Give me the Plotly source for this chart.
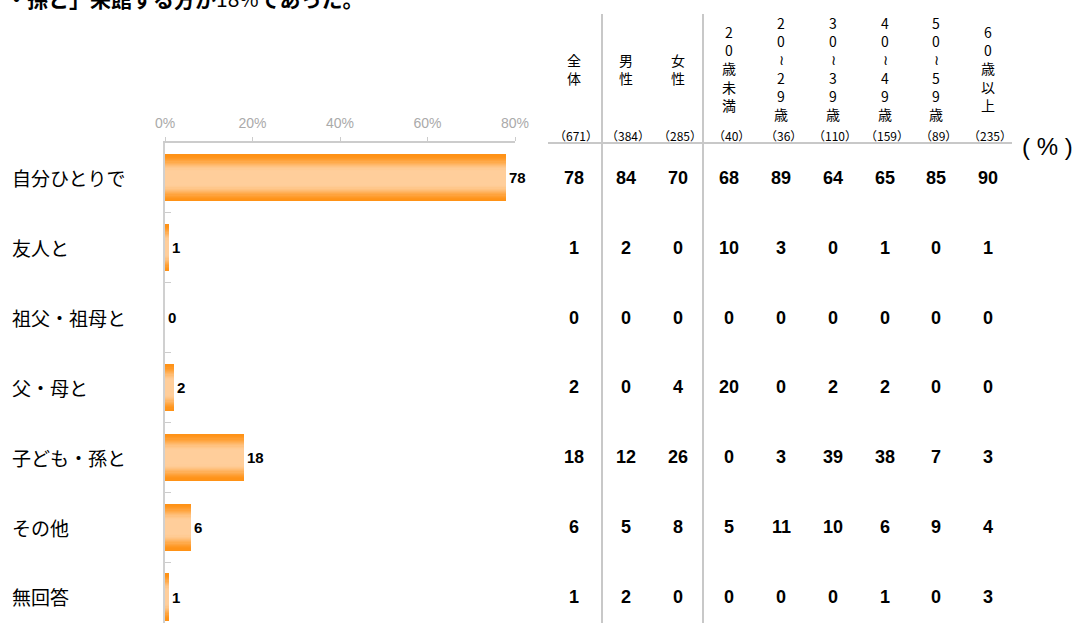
import plotly.graph_objects as go

# ---------------- data ----------------
categories = ["自分ひとりで", "友人と", "祖父・祖母と", "父・母と", "子ども・孫と", "その他", "無回答"]
bar_values = [78, 1, 0, 2, 18, 6, 1]

column_labels = ["全体", "男性", "女性", "20歳未満", "20～29歳", "30～39歳", "40～49歳", "50～59歳", "60歳以上"]
sample_sizes = [671, 384, 285, 40, 36, 110, 159, 89, 235]

col_total = [78, 1, 0, 2, 18, 6, 1]
col_male = [84, 2, 0, 0, 12, 5, 2]
col_female = [70, 0, 0, 4, 26, 8, 0]
col_u20 = [68, 10, 0, 20, 0, 5, 0]
col_20s = [89, 3, 0, 0, 3, 11, 0]
col_30s = [64, 0, 0, 2, 39, 10, 0]
col_40s = [65, 1, 0, 2, 38, 6, 1]
col_50s = [85, 0, 0, 0, 7, 9, 0]
col_60p = [90, 1, 0, 0, 3, 4, 3]
table_columns = [col_total, col_male, col_female, col_u20, col_20s, col_30s, col_40s, col_50s, col_60p]

x_ticks = [0, 20, 40, 60, 80]
title_text = "<b>・孫と」来館する方が</b>18%<b>であった。</b>"

# ---------------- layout helpers ----------------
W, H = 1083, 623
L, R, T, B = 165, 515, 143, 623


def px(xp):
    return (xp - L) / (R - L)


def py(yp):
    return 1 - (yp - T) / (B - T)


JP = "Noto Sans CJK JP"
NUM = "Liberation Sans, Arial"

fig = go.Figure()

# gradient bars: overlay of same data with shrinking widths
edge = (255, 146, 22)
center = (255, 206, 155)
N = 20
full_w = 0.675
ypos = list(range(len(categories)))
for k in range(N):
    t = k / N
    s = min(1.0, t / 0.7)
    s = s * s * (3 - 2 * s)
    c = tuple(round(edge[i] + (center[i] - edge[i]) * s) for i in range(3))
    fig.add_trace(go.Bar(
        x=bar_values, y=ypos, orientation="h",
        width=full_w * (1 - t),
        marker=dict(color="rgb(%d,%d,%d)" % c, line=dict(width=0)),
        text=[str(v) for v in bar_values] if k == 0 else None,
        textposition="outside" if k == 0 else "none",
        textfont=dict(family=NUM, size=15, color="black", weight="bold"),
        cliponaxis=False, hoverinfo="skip", showlegend=False,
    ))

fig.update_layout(
    width=W, height=H,
    margin=dict(l=L, r=W - R, t=T, b=H - B, pad=0),
    paper_bgcolor="white", plot_bgcolor="white",
    barmode="overlay", bargap=0,
    xaxis=dict(range=[0, 80], side="top", tickvals=x_ticks,
               ticktext=["%d%%" % v for v in x_ticks],
               showgrid=False, zeroline=False, showline=True, linecolor="#cccccc", linewidth=1.5,
               ticks="outside", ticklen=4, tickcolor="#cccccc",
               tickfont=dict(family=NUM, size=14, color="#aaaaaa"),
               ticklabelstandoff=4, fixedrange=True),
    yaxis=dict(range=[6.373, -0.5], tickvals=[0.5, 1.5, 2.5, 3.5, 4.5, 5.5],
               showticklabels=False, showgrid=False, zeroline=False,
               showline=True, linecolor="#d0d0d0", linewidth=2,
               ticks="inside", ticklen=6, tickcolor="#cccccc", tickwidth=1, fixedrange=True),
)

ann = []
# title (cut at the top, as in the reference)
ann.append(dict(text=title_text, xref="paper", yref="paper", x=px(4), y=py(-2),
                xanchor="left", yanchor="middle", showarrow=False,
                font=dict(family=JP, size=21, color="black")))
# row labels
for i, c in enumerate(categories):
    ann.append(dict(text=c, xref="paper", yref="y", x=px(10), y=i, xanchor="left",
                    yanchor="middle", showarrow=False,
                    font=dict(family=JP, size=19, color="black")))

col_x0, col_dx = 574, 51.75
for j, (lab, n, vals) in enumerate(zip(column_labels, sample_sizes, table_columns)):
    cx = col_x0 + col_dx * j
    stacked = "<br>".join(ch for ch in lab.replace("～", "≀"))
    ann.append(dict(text=stacked, xref="paper", yref="paper", x=px(cx), y=py(69),
                    xanchor="center", yanchor="middle", showarrow=False,
                    font=dict(family=JP, size=14, color="black")))
    ann.append(dict(text="（%d）" % n, xref="paper", yref="paper", x=px(cx + 2), y=py(135),
                    xanchor="center", yanchor="middle", showarrow=False,
                    font=dict(family=JP, size=12, color="black")))
    for i, v in enumerate(vals):
        ann.append(dict(text=str(v), xref="paper", yref="y", x=px(cx), y=i,
                        xanchor="center", yanchor="middle", showarrow=False,
                        font=dict(family=NUM, size=18, color="black", weight="bold")))

ann.append(dict(text="( % )", xref="paper", yref="paper", x=px(1047), y=py(146),
                xanchor="center", yanchor="middle", showarrow=False,
                font=dict(family=NUM, size=24, color="black")))
fig.update_layout(annotations=ann)

shapes = []
for xp_ in (602, 703):
    shapes.append(dict(type="line", xref="paper", yref="paper", x0=px(xp_), x1=px(xp_),
                       y0=py(14), y1=py(H), line=dict(color="#c8c8c8", width=2)))
shapes.append(dict(type="line", xref="paper", yref="paper", x0=px(548), x1=px(1012),
                   y0=py(143), y1=py(143), line=dict(color="#c8c8c8", width=2)))
fig.update_layout(shapes=shapes)

fig.write_html("out.html", config={"displayModeBar": False},
               post_script="document.body.style.margin='0';")
